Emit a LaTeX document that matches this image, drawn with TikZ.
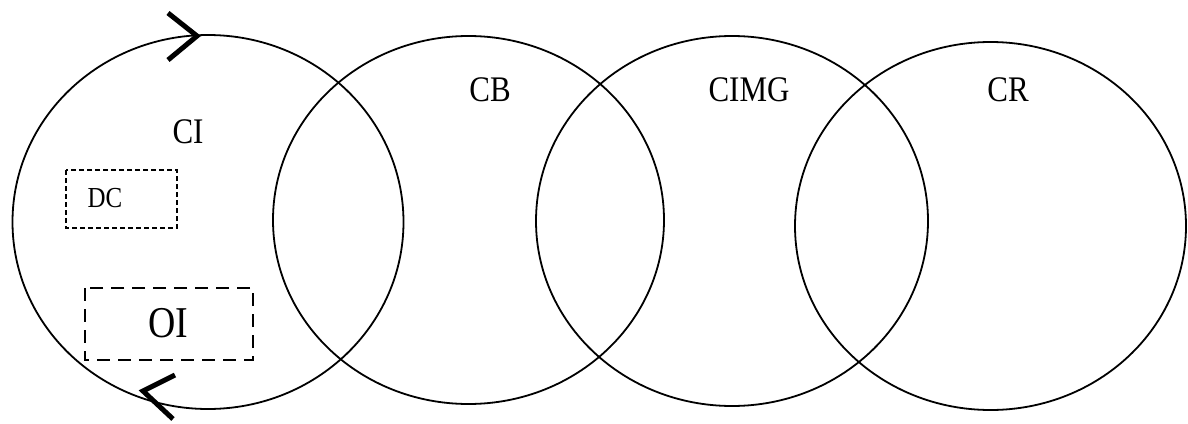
\documentclass[tikz,border=0pt]{standalone}
\usepackage{fontspec}
\usepackage{graphicx}
\setmainfont{Liberation Serif}
\newcommand{\narrowtext}[1]{\scalebox{0.86}[1]{#1}}
\begin{document}
\begin{tikzpicture}[x=1pt,y=-1pt,
  ring/.style={draw=black,line width=1.8pt},
  lbl/.style={inner sep=0pt,font=\fontsize{36}{42}\selectfont},
  smallbox/.style={draw=black,line width=1.5pt,dash pattern=on 5pt off 3pt},
  bigbox/.style={draw=black,line width=1.6pt,dash pattern=on 13pt off 8pt},
  tick/.style={line width=5pt}]
\useasboundingbox (0,0) rectangle (1188,423);
\draw[ring] (208,222) ellipse [x radius=195.5, y radius=187];
\draw[ring] (468.5,220) ellipse [x radius=195.5, y radius=184];
\draw[ring] (732,221) ellipse [x radius=196, y radius=185];
\draw[ring] (990.5,226) ellipse [x radius=195.5, y radius=184];
\node[lbl] (ci) at (188,132) {\narrowtext{CI}};
\node[lbl] (cb) at (490,90) {\narrowtext{CB}};
\node[lbl] (cimg) at (749,90) {\narrowtext{CIMG}};
\node[lbl] (cr) at (1008,90) {\narrowtext{CR}};
\draw[smallbox] (66,170) rectangle (177,228);
\node[inner sep=0pt,font=\fontsize{29}{33}\selectfont] (dc) at (105,198) {\narrowtext{DC}};
\draw[bigbox] (85,288) rectangle (253,360);
\node[inner sep=0pt,font=\fontsize{44}{50}\selectfont] (oi) at (168,323) {\narrowtext{OI}};
\coordinate (ta) at (197,36);
\coordinate (t1) at (168,13);
\coordinate (t2) at (168,60);
\draw[tick] (t1) -- (ta) -- (t2);
\coordinate (ba) at (143,391);
\coordinate (b1) at (175,375);
\coordinate (b2) at (173,419);
\draw[tick] (b1) -- (ba) -- (b2);
\end{tikzpicture}
\end{document}
